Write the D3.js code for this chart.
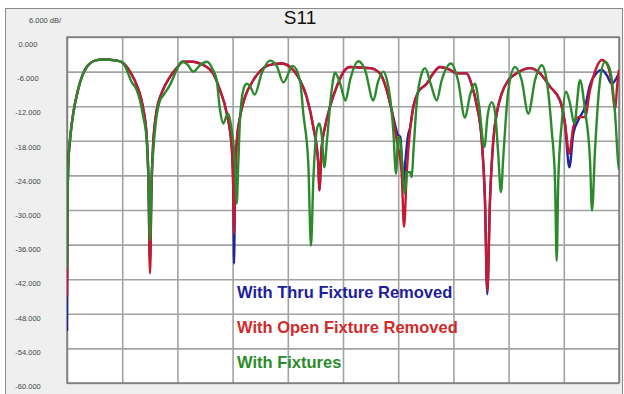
<!DOCTYPE html>
<html>
<head>
<meta charset="utf-8">
<script src="https://cdn.jsdelivr.net/npm/d3@7"></script>
<style>
  body { margin: 0; background: #fff; }
  svg { display: block; font-family: Arial, "Liberation Sans", sans-serif; }
</style>
</head>
<body>
<script>
// x is in grid divisions (0..10), y in dB
var thruFixtureRemoved = [
  [0,-51],[0.01,-30],[0.024,-22],[0.054,-17.9],[0.114,-13.2],[0.199,-9.2],[0.357,-5.2],[0.538,-4.0],[0.652,-3.9],
  [0.906,-4.1],[1.014,-4.5],[1.141,-6.0],[1.286,-8.9],[1.377,-12.2],[1.444,-17.3],[1.473,-23.7],[1.504,-39],
  [1.53,-26.6],[1.558,-19.1],[1.625,-12.7],[1.716,-9.7],[1.866,-6.9],[1.987,-5.4],[2.101,-4.3],[2.283,-4.3],
  [2.409,-4.6],[2.645,-6.3],[2.772,-9.2],[2.893,-13.2],[2.984,-19.1],[3.013,-27],[3.025,-39.3],[3.043,-27],
  [3.074,-18.4],[3.134,-13.9],[3.225,-10.4],[3.375,-7.5],[3.556,-5.4],[3.737,-4.7],[3.889,-4.6],[4.04,-5.2],
  [4.221,-7.5],[4.342,-10.4],[4.462,-15.6],[4.553,-22.0],[4.571,-26.6],[4.614,-19.1],[4.674,-15.6],[4.764,-12.1],
  [4.886,-8.6],[5.036,-5.7],[5.127,-5.2],[5.308,-5.3],[5.489,-5.4],[5.67,-6.3],[5.792,-9.2],[5.882,-12.7],
  [5.95,-15.5],[5.99,-16.9],[6.04,-17.4],[6.075,-23],[6.095,-25.5],[6.13,-21.5],[6.18,-17],[6.214,-15.8],
  [6.274,-12.1],[6.364,-9.5],[6.516,-8.1],[6.636,-6.3],[6.757,-5.2],[6.938,-5.7],[7.06,-6.3],[7.241,-6.3],
  [7.332,-8.3],[7.422,-11.8],[7.513,-17.9],[7.572,-28.3],[7.614,-44.6],[7.663,-28.3],[7.723,-17.9],[7.784,-13.3],
  [7.875,-9.8],[7.995,-7.5],[8.147,-6.3],[8.388,-5.4],[8.569,-6.3],[8.75,-8.6],[8.931,-11.0],[9.022,-15.2],
  [9.1,-22.6],[9.172,-16.8],[9.263,-14.4],[9.384,-12.1],[9.475,-8.3],[9.596,-6.2],[9.687,-5.7],[9.777,-6.6],
  [9.868,-8.1],[9.95,-7.2],[10,-6.3]
];

var openFixtureRemoved = [
  [0,-45],[0.01,-28.3],[0.024,-21.9],[0.054,-17.9],[0.114,-13.2],[0.199,-9.2],[0.357,-5.2],[0.538,-4.0],[0.652,-3.9],
  [0.906,-4.1],[1.014,-4.5],[1.141,-6.0],[1.286,-8.9],[1.377,-12.2],[1.444,-17.3],[1.473,-23.7],[1.504,-41],
  [1.53,-26.6],[1.558,-19.1],[1.625,-12.7],[1.716,-9.7],[1.866,-6.9],[1.987,-5.4],[2.101,-4.3],[2.283,-4.3],
  [2.409,-4.6],[2.645,-6.3],[2.772,-9.2],[2.893,-13.2],[2.984,-19.1],[3.013,-26.6],[3.025,-34.1],[3.043,-26.6],
  [3.074,-18.4],[3.134,-13.9],[3.225,-10.4],[3.375,-7.5],[3.556,-5.4],[3.737,-4.7],[3.889,-4.6],[4.04,-5.2],
  [4.221,-7.5],[4.342,-10.4],[4.462,-15.6],[4.553,-22.0],[4.571,-26.6],[4.614,-19.1],[4.674,-15.6],[4.764,-12.1],
  [4.886,-8.6],[5.036,-5.7],[5.127,-5.2],[5.308,-5.3],[5.489,-5.4],[5.67,-6.3],[5.792,-9.2],[5.882,-12.7],
  [5.973,-17.9],[6.063,-23.7],[6.105,-32.9],[6.154,-23.7],[6.214,-16.2],[6.274,-12.1],[6.364,-9.5],[6.516,-8.1],
  [6.636,-6.3],[6.757,-5.2],[6.938,-5.7],[7.06,-6.3],[7.241,-6.3],[7.332,-8.3],[7.422,-11.8],[7.513,-17.9],
  [7.572,-28.3],[7.614,-44.0],[7.663,-28.3],[7.723,-17.9],[7.784,-13.3],[7.875,-9.8],[7.995,-7.5],[8.147,-6.3],
  [8.388,-5.4],[8.569,-6.3],[8.75,-8.6],[8.931,-11.0],[9.022,-15.0],[9.1,-20.2],[9.172,-15.6],[9.263,-13.9],
  [9.384,-13.9],[9.475,-9.2],[9.596,-5.2],[9.687,-4.0],[9.777,-4.6],[9.868,-8.1],[9.928,-12.7],[9.97,-8.1],[10,-5.7]
];

var withFixtures = [
  [0,-40],[0.01,-28],[0.024,-21.9],[0.054,-17.9],[0.114,-13.2],[0.199,-9.2],[0.357,-5.2],[0.538,-4.0],[0.652,-3.9],
  [0.906,-4.1],[1.014,-4.5],[1.172,-7.8],[1.263,-9.2],[1.322,-11],[1.377,-13.6],[1.444,-17.9],[1.476,-24.9],
  [1.504,-35.3],[1.53,-24.9],[1.563,-19.7],[1.625,-13.6],[1.685,-11.0],[1.745,-10.1],[1.866,-8.3],[1.987,-5.7],
  [2.078,-4.3],[2.174,-4.7],[2.288,-6.0],[2.409,-4.9],[2.531,-4.3],[2.645,-5.7],[2.712,-7.5],[2.772,-12.7],
  [2.832,-15.0],[2.893,-13.6],[2.922,-13.3],[2.984,-16.2],[3.043,-21.9],[3.074,-28.9],[3.103,-21.9],[3.134,-14.4],
  [3.194,-9.2],[3.255,-8.1],[3.315,-8.5],[3.4,-10.0],[3.527,-6.3],[3.678,-4.1],[3.799,-5.0],[3.92,-7.9],
  [4.09,-5.0],[4.221,-7.5],[4.281,-13.3],[4.371,-21.9],[4.42,-36.2],[4.462,-24.9],[4.524,-16.2],[4.571,-15.0],
  [4.614,-17.0],[4.661,-22.6],[4.71,-17.9],[4.795,-9.2],[4.855,-6.2],[4.946,-8.0],[5.045,-11.0],[5.127,-7.5],
  [5.277,-4.2],[5.399,-5.7],[5.549,-11.0],[5.634,-7.8],[5.73,-6.0],[5.797,-7.5],[5.851,-10.4],[5.911,-16.2],
  [5.96,-23.7],[6.001,-17.3],[6.033,-17.9],[6.069,-21.4],[6.123,-27.1],[6.159,-23.5],[6.214,-23.4],[6.245,-24.3],
  [6.277,-19.7],[6.335,-11.5],[6.426,-6.3],[6.486,-5.4],[6.594,-8.3],[6.697,-11.0],[6.788,-7.5],[6.957,-4.6],
  [7.083,-7.5],[7.21,-14.0],[7.301,-10.1],[7.391,-8.1],[7.464,-11.8],[7.56,-19.1],[7.62,-13.6],[7.694,-11.3],
  [7.754,-13.0],[7.808,-19.7],[7.862,-26.9],[7.904,-20.8],[7.995,-9.2],[8.116,-5.2],[8.237,-7.5],[8.357,-13.3],
  [8.478,-7.5],[8.6,-4.9],[8.69,-7.5],[8.781,-16.2],[8.841,-24.9],[8.871,-38.8],[8.9,-24.9],[8.962,-15.0],
  [9.04,-9.5],[9.112,-11.5],[9.19,-15.0],[9.293,-7.5],[9.384,-12.7],[9.475,-21.4],[9.511,-30.1],[9.565,-19.7],
  [9.656,-7.5],[9.746,-4.3],[9.837,-5.7],[9.928,-13.2],[9.987,-22.0],[10,-23]
];

var yTicks = d3.range(0, -61, -6);
var xTicks = d3.range(0, 11, 1);
var seriesNames = ['With Thru Fixture Removed', 'With Open Fixture Removed', 'With Fixtures'];
var lineColors = ['#2323a0', '#c8182e', '#2b8a2b'];
var textColors = ['#1e1e9c', '#d22a2a', '#2a8c2a'];

var W = 624, H = 394;
var plot = {left: 67, right: 619, top: 37, bottom: 383};

var svg = d3.select('body').append('svg')
    .attr('width', W)
    .attr('height', H);

// outer panel
svg.append('rect')
    .attr('x', 5.5).attr('y', 8.5)
    .attr('width', 617).attr('height', 392)
    .attr('fill', '#efefef')
    .attr('stroke', '#8a8a8a');

var xScale = d3.scaleLinear().domain([0, 10]).range([plot.left, plot.right]);
var yScale = d3.scaleLinear().domain([0, -60]).range([plot.top, plot.bottom]);
var yLabelScale = d3.scaleLinear().domain([0, -60]).range([44, 386]);

var pw = plot.right - plot.left, ph = plot.bottom - plot.top;

svg.append('rect')
    .attr('x', plot.left).attr('y', plot.top)
    .attr('width', pw).attr('height', ph)
    .attr('fill', '#fff');

// grid
svg.append('g')
    .attr('transform', 'translate(' + plot.left + ',0)')
    .call(d3.axisLeft(yScale).tickValues(yTicks).tickSize(-pw).tickFormat(''))
    .call(function(g) { g.select('.domain').remove(); })
    .selectAll('line').attr('stroke', '#a2a2a2').attr('stroke-width', 1.6);

svg.append('g')
    .attr('transform', 'translate(0,' + plot.bottom + ')')
    .call(d3.axisBottom(xScale).tickValues(xTicks).tickSize(-ph).tickFormat(''))
    .call(function(g) { g.select('.domain').remove(); })
    .selectAll('line').attr('stroke', '#a2a2a2').attr('stroke-width', 1.6);

svg.append('rect')
    .attr('x', plot.left).attr('y', plot.top)
    .attr('width', pw).attr('height', ph)
    .attr('fill', 'none')
    .attr('stroke', '#6a6a6a')
    .attr('stroke-width', 1.2);

// y labels
svg.append('g').selectAll('text')
    .data(yTicks)
    .enter().append('text')
    .attr('x', 28)
    .attr('y', function(d) { return yLabelScale(d) + 3; })
    .attr('text-anchor', 'middle')
    .attr('font-size', 7.5)
    .attr('fill', '#444')
    .text(function(d) { return d.toFixed(3); });

svg.append('text')
    .attr('x', 29).attr('y', 23)
    .attr('font-size', 7.5)
    .attr('fill', '#444')
    .text('6.000 dB/');

svg.append('text')
    .attr('x', 300).attr('y', 24)
    .attr('text-anchor', 'middle')
    .attr('font-size', 19)
    .attr('fill', '#111')
    .text('S11');

// traces
var line = d3.line()
    .x(function(d) { return xScale(d[0]); })
    .y(function(d) { return yScale(d[1]); })
    .curve(d3.curveMonotoneX);

svg.append('clipPath').attr('id', 'plotclip')
    .append('rect')
    .attr('x', plot.left).attr('y', plot.top)
    .attr('width', pw).attr('height', ph);

[thruFixtureRemoved, openFixtureRemoved, withFixtures].forEach(function(s, i) {
    svg.append('path')
        .datum(s)
        .attr('clip-path', 'url(#plotclip)')
        .attr('fill', 'none')
        .attr('stroke', lineColors[i])
        .attr('stroke-width', 2.4)
        .attr('stroke-linejoin', 'round')
        .attr('d', line);
});

// legend
var legendY = [298, 333, 368];
svg.append('g').selectAll('text')
    .data(seriesNames)
    .enter().append('text')
    .attr('x', 237)
    .attr('y', function(d, i) { return legendY[i]; })
    .attr('font-size', 16.5)
    .attr('font-weight', 'bold')
    .attr('fill', function(d, i) { return textColors[i]; })
    .text(function(d) { return d; });
</script>
</body>
</html>
